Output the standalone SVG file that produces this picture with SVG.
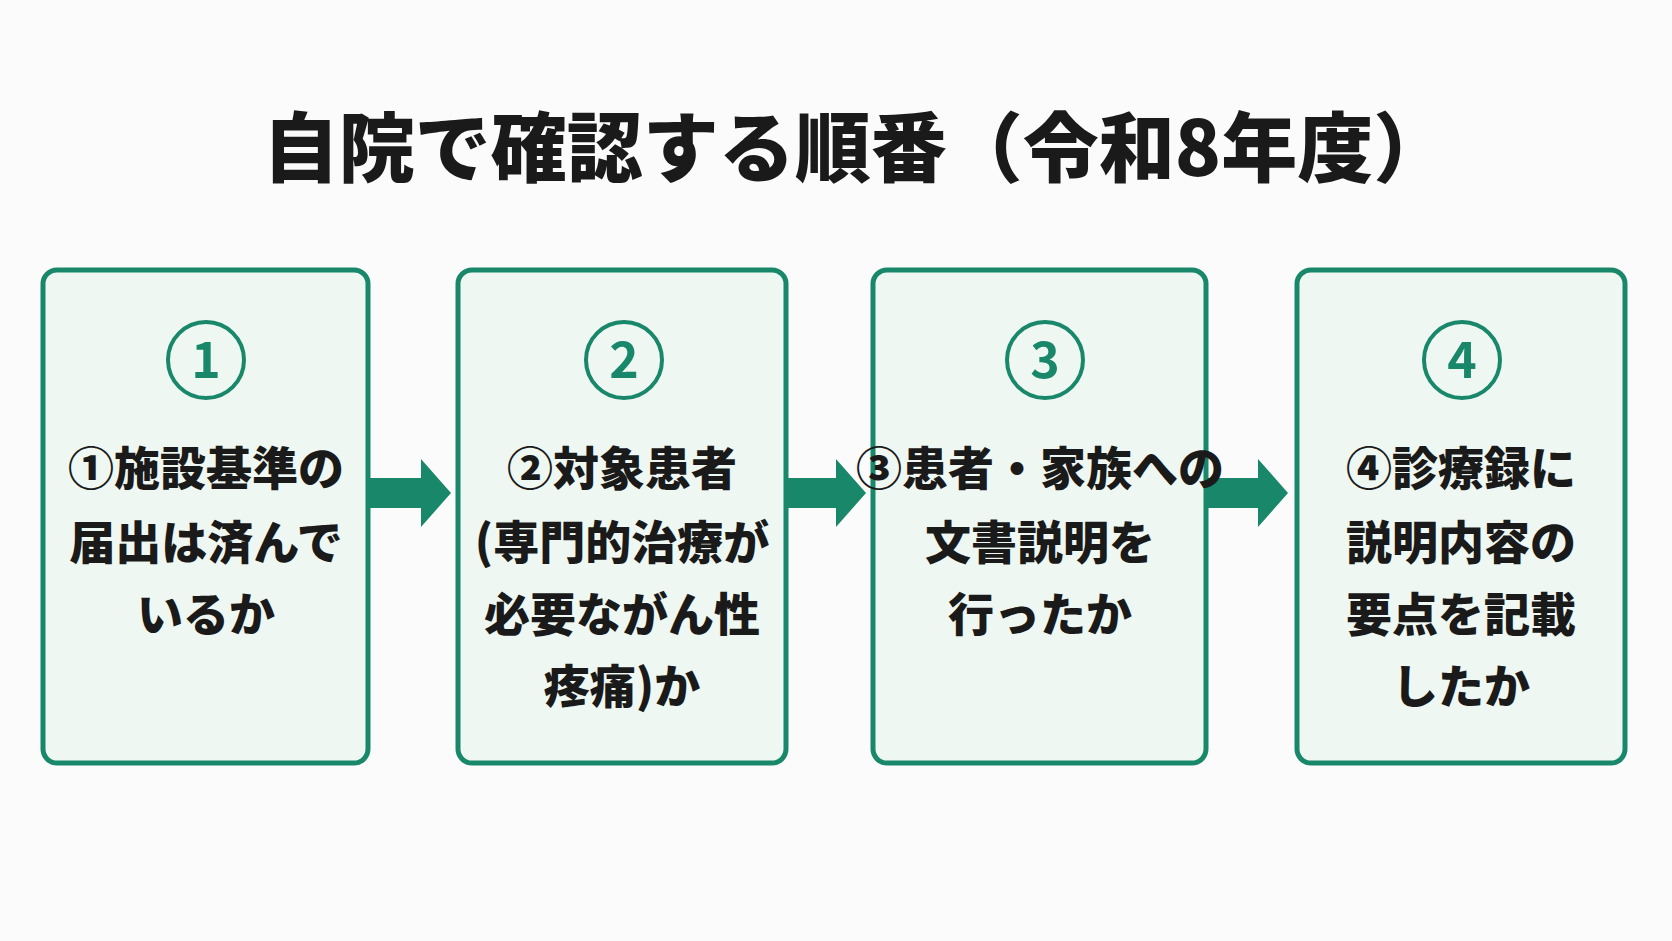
<svg xmlns="http://www.w3.org/2000/svg" width="1672" height="941" viewBox="0 0 1672 941">
<style>
.box{fill:#eef7f1;stroke:#19876a;stroke-width:5}
.circ{fill:none;stroke:#19876a;stroke-width:4}
.num{font-family:"Noto Sans CJK JP","Noto Sans",sans-serif;font-weight:700;font-size:50px;fill:#19876a;text-anchor:middle}
.t{font-family:"Noto Sans CJK JP",sans-serif;font-weight:900;font-size:46px;fill:#1a1a1a;text-anchor:middle}
.arr{fill:#19876a}
</style>
<rect width="1672" height="941" fill="#fbfbfb"/>
<text x="856" y="176" font-family="Noto Sans CJK JP, sans-serif" font-weight="900" font-size="76" fill="#1a1a1a" text-anchor="middle">自院で確認する順番（令和8年度）</text>
<g id="connectors">
<polygon class="arr" points="368,478 421,478 421,459 451,493 421,527 421,508 368,508"/>
<polygon class="arr" points="786,478 836,478 836,459 866,493 836,527 836,508 786,508"/>
<polygon class="arr" points="1206,478 1258,478 1258,459 1288,493 1258,527 1258,508 1206,508"/>
</g>
<g id="n1"><rect class="box" x="43" y="270" width="325" height="493" rx="14"/><circle class="circ" cx="206" cy="360" r="38"/><text class="num" x="206" y="378">1</text>
<text class="t" x="206" y="485">①施設基準の</text><text class="t" x="206" y="559">届出は済んで</text><text class="t" x="206" y="631">いるか</text></g>
<g id="n2"><rect class="box" x="458" y="270" width="328" height="493" rx="14"/><circle class="circ" cx="624" cy="360" r="38"/><text class="num" x="624" y="378">2</text>
<text class="t" x="622" y="485">②対象患者</text><text class="t" x="622" y="559">(専門的治療が</text><text class="t" x="622" y="631">必要ながん性</text><text class="t" x="622" y="703">疼痛)か</text></g>
<g id="n3"><rect class="box" x="873" y="270" width="333" height="493" rx="14"/><circle class="circ" cx="1045" cy="360" r="38"/><text class="num" x="1045" y="378">3</text>
<text class="t" x="1040" y="485">③患者・家族への</text><text class="t" x="1040" y="559">文書説明を</text><text class="t" x="1040" y="631">行ったか</text></g>
<g id="n4"><rect class="box" x="1297" y="270" width="328" height="493" rx="14"/><circle class="circ" cx="1462" cy="360" r="38"/><text class="num" x="1462" y="378">4</text>
<text class="t" x="1461" y="485">④診療録に</text><text class="t" x="1461" y="559">説明内容の</text><text class="t" x="1461" y="631">要点を記載</text><text class="t" x="1461" y="703">したか</text></g>
</svg>
